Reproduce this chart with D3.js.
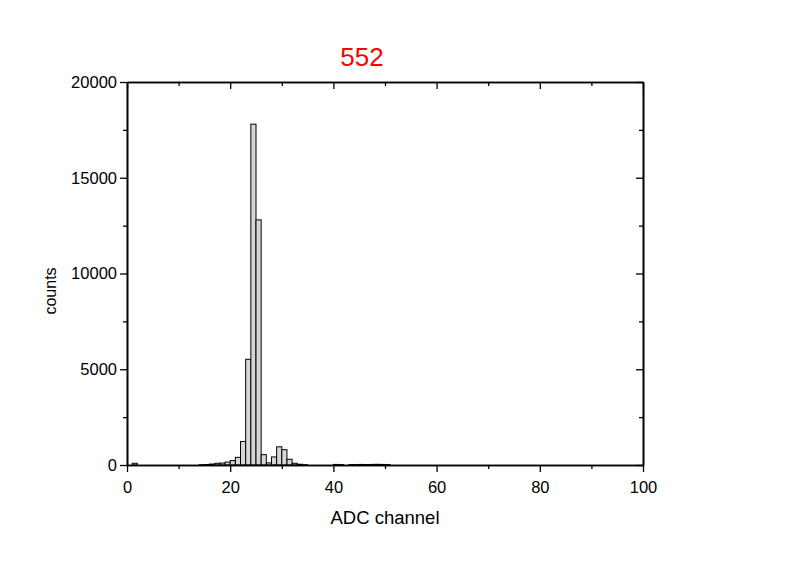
<!DOCTYPE html>
<html>
<head>
<meta charset="utf-8">
<script src="https://cdn.jsdelivr.net/npm/d3@7"></script>
<style>
  body { margin: 0; background: #fff; }
  svg { font-family: Arial, 'Liberation Sans', sans-serif; }
</style>
</head>
<body>
<div class="chart"></div>
<script>
const title = '552';
const xLabel = 'ADC channel';
const yLabel = 'counts';

// histogram: left edge of each channel bin and its counts
const channels = [1, 14, 15, 16, 17, 18, 19, 20, 21, 22, 23, 24, 25, 26, 27, 28, 29, 30, 31, 32, 33, 34,
  40, 41, 43, 44, 45, 46, 47, 48, 49, 50];
const counts = [90, 15, 25, 50, 90, 100, 150, 230, 400, 1230, 5520, 17800, 12800, 540, 110, 420, 950, 800, 300, 90, 40, 15,
  30, 20, 25, 20, 30, 25, 30, 35, 30, 20];

const xTicks = [0, 20, 40, 60, 80, 100];
const xMinor = [10, 30, 50, 70, 90];
const yTicks = [0, 5000, 10000, 15000, 20000];
const yMinor = [2500, 7500, 12500, 17500];

function draw() {
  const width = 800, height = 565;
  const margin = { left: 127, top: 82, right: 157, bottom: 100 };
  const w = width - margin.left - margin.right;
  const h = height - margin.top - margin.bottom;

  const svg = d3.select('.chart').append('svg')
    .attr('width', width)
    .attr('height', height);

  const x = d3.scaleLinear().domain([0, 100]).range([0, w]);
  const y = d3.scaleLinear().domain([0, 20000]).range([h, 0]);

  const g = svg.append('g')
    .attr('transform', 'translate(' + margin.left + ',' + margin.top + ')');

  const data = channels.map((c, i) => ({ c: c, n: counts[i] }));

  g.selectAll('.bar')
    .data(data)
    .join('rect')
    .attr('class', 'bar')
    .attr('x', (d) => x(d.c))
    .attr('y', (d) => y(d.n))
    .attr('width', (d) => x(d.c + 1) - x(d.c))
    .attr('height', (d) => h - y(d.n))
    .attr('fill', '#d6d6d6')
    .attr('stroke', '#000')
    .attr('stroke-width', 1);

  // bottom axis, ticks outward
  g.append('g')
    .attr('transform', 'translate(0,' + h + ')')
    .call(d3.axisBottom(x).tickValues(xTicks).tickSize(7).tickSizeOuter(0).tickPadding(9));
  g.append('g')
    .attr('transform', 'translate(0,' + h + ')')
    .call(d3.axisBottom(x).tickValues(xMinor).tickSize(4).tickSizeOuter(0).tickFormat(''));

  // top axis, ticks inward
  g.append('g')
    .call(d3.axisBottom(x).tickValues(xTicks).tickSize(7).tickSizeOuter(0).tickFormat(''));
  g.append('g')
    .call(d3.axisBottom(x).tickValues(xMinor).tickSize(4).tickSizeOuter(0).tickFormat(''));

  // left axis, ticks outward
  g.append('g')
    .call(d3.axisLeft(y).tickValues(yTicks).tickSize(7).tickSizeOuter(0).tickPadding(3)
      .tickFormat(d3.format('d')));
  g.append('g')
    .call(d3.axisLeft(y).tickValues(yMinor).tickSize(4).tickSizeOuter(0).tickFormat(''));

  // right axis, ticks inward
  g.append('g')
    .attr('transform', 'translate(' + w + ',0)')
    .call(d3.axisLeft(y).tickValues(yTicks).tickSize(7).tickSizeOuter(0).tickFormat(''));
  g.append('g')
    .attr('transform', 'translate(' + w + ',0)')
    .call(d3.axisLeft(y).tickValues(yMinor).tickSize(4).tickSizeOuter(0).tickFormat(''));

  g.selectAll('.domain').attr('stroke', '#000').attr('stroke-width', 1.6);
  g.selectAll('.tick line').attr('stroke', '#000').attr('stroke-width', 1.3);
  g.selectAll('.tick text')
    .attr('fill', '#000')
    .style('font-size', '16.5px')
    .style('font-family', "Arial, 'Liberation Sans', sans-serif");

  svg.append('text')
    .attr('x', 362)
    .attr('y', 66)
    .attr('text-anchor', 'middle')
    .attr('fill', '#ff0000')
    .style('font-size', '26px')
    .text(title);

  svg.append('text')
    .attr('x', margin.left + w / 2)
    .attr('y', 524)
    .attr('text-anchor', 'middle')
    .style('font-size', '18.5px')
    .text(xLabel);

  svg.append('text')
    .attr('transform', 'translate(56,291)rotate(-90)')
    .attr('text-anchor', 'middle')
    .style('font-size', '16px')
    .text(yLabel);
}

draw();
</script>
</body>
</html>
